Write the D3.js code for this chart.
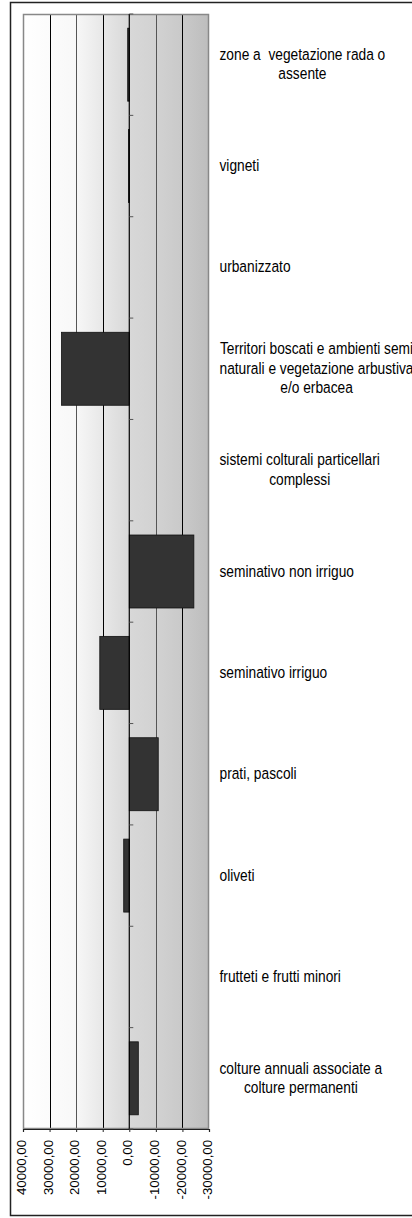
<!DOCTYPE html>
<html>
<head>
<meta charset="utf-8">
<script src="https://cdn.jsdelivr.net/npm/d3@7"></script>
<style>
  body { margin: 0; background: #fff; }
  svg { display: block; }
  text { font-family: "Liberation Sans", Arial, sans-serif; fill: #000; white-space: pre; }
</style>
</head>
<body>
<div id="chart"></div>
<script>
// categories, top to bottom (each label split in lines)
var categories = [
  "zone a  vegetazione rada o|assente",
  "vigneti",
  "urbanizzato",
  "Territori boscati e ambienti semi|naturali e vegetazione arbustiva|e/o erbacea",
  "sistemi colturali particellari|complessi",
  "seminativo non irriguo",
  "seminativo irriguo",
  "prati, pascoli",
  "oliveti",
  "frutteti e frutti minori",
  "colture annuali associate a|colture permanenti"
];
var values = [600, 300, 0, 25500, 0, -24300, 11100, -10900, 2100, 0, -3400];
var ticks = [40000, 30000, 20000, 10000, 0, -10000, -20000, -30000];

window.onload = function() {
  var width = 412, height = 1218;
  var plot = {left: 23, right: 209, top: 14, bottom: 1129};
  var stretch = 1.17;   // the original picture is a bit taller than wide
  var tickStretch = 1.1;

  var svg = d3.select("#chart").append("svg")
     .attr("width", width)
     .attr("height", height);

  // outer frame
  svg.append("rect")
     .attr("x", 10.5).attr("y", 2.5)
     .attr("width", 410).attr("height", 1213)
     .attr("fill", "none")
     .attr("stroke", "#222")
     .attr("stroke-width", 1.5);

  var x = d3.scaleLinear()
     .domain([40000, -30000])
     .range([plot.left, plot.right]);

  var y = d3.scaleBand()
     .domain(d3.range(categories.length))
     .range([plot.top, plot.bottom])
     .paddingInner(0.28)
     .paddingOuter(0.14);

  // background: grey bands getting darker to the right
  var defs = svg.append("defs");
  var grad = defs.append("linearGradient").attr("id", "bg")
     .attr("x1", "0%").attr("x2", "100%").attr("y1", "0%").attr("y2", "0%");
  grad.append("stop").attr("offset", "0%").attr("stop-color", "#ffffff");
  grad.append("stop").attr("offset", "28%").attr("stop-color", "#f8f8f8");
  grad.append("stop").attr("offset", "57%").attr("stop-color", "#d8d8d8");
  grad.append("stop").attr("offset", "71%").attr("stop-color", "#d2d2d2");
  grad.append("stop").attr("offset", "86%").attr("stop-color", "#c9c9c9");
  grad.append("stop").attr("offset", "100%").attr("stop-color", "#bdbdbd");

  svg.append("rect")
     .attr("x", plot.left).attr("y", plot.top)
     .attr("width", plot.right - plot.left)
     .attr("height", plot.bottom - plot.top)
     .attr("fill", "url(#bg)");

  // vertical gridlines
  svg.append("g")
     .selectAll("line")
     .data(ticks.filter(t => t != 40000 && t != -30000 && t != 0))
     .join("line")
     .attr("x1", d => Math.round(x(d)) + 0.5)
     .attr("x2", d => Math.round(x(d)) + 0.5)
     .attr("y1", plot.top)
     .attr("y2", plot.bottom)
     .attr("stroke", (d, i) => i % 2 == 0 ? "#000" : "#555")
     .attr("stroke-width", 1);

  // plot border (grey)
  svg.append("rect")
     .attr("x", plot.left + 0.5).attr("y", plot.top + 0.5)
     .attr("width", plot.right - plot.left - 1)
     .attr("height", plot.bottom - plot.top - 1)
     .attr("fill", "none")
     .attr("stroke", "#888")
     .attr("stroke-width", 1.5);

  // bars
  svg.append("g")
     .selectAll("rect")
     .data(values)
     .join("rect")
     .attr("x", d => x(Math.max(d, 0)))
     .attr("y", (d, i) => y(i))
     .attr("width", d => Math.abs(x(d) - x(0)))
     .attr("height", y.bandwidth())
     .attr("fill", "#333333")
     .attr("stroke", "#111")
     .attr("stroke-width", d => d == 0 ? 0 : 0.8);

  // value axis along the bottom
  var xAxis = d3.axisBottom(x)
     .tickValues(ticks)
     .tickSize(3)
     .tickFormat(d => d3.format(".2f")(d).replace(".", ",").replace("\u2212", "-"));

  var gx = svg.append("g")
     .attr("transform", "translate(0," + plot.bottom + ")")
     .call(xAxis);
  gx.select(".domain").attr("stroke", "#222").attr("stroke-width", 1.2);
  gx.selectAll(".tick line").attr("stroke", "#222");
  gx.selectAll(".tick text")
     .attr("transform", "rotate(-90) scale(" + tickStretch + ",1)")
     .attr("x", -11 / tickStretch)
     .attr("y", -1.5)
     .attr("dy", "0.35em")
     .attr("text-anchor", "end")
     .style("font-size", "12px")
     .style("font-family", "'Liberation Sans', Arial, sans-serif")
     .attr("fill", "#000");

  // category axis at zero
  var cat = svg.append("g");
  cat.append("line")
     .attr("x1", x(0)).attr("x2", x(0))
     .attr("y1", plot.top).attr("y2", plot.bottom)
     .attr("stroke", "#000")
     .attr("stroke-width", 1.2);
  cat.selectAll("line.tk")
     .data(d3.range(categories.length + 1))
     .join("line")
     .attr("class", "tk")
     .attr("x1", x(0)).attr("x2", x(0) + 4)
     .attr("y1", i => plot.top + i * y.step())
     .attr("y2", i => plot.top + i * y.step())
     .attr("stroke", "#555");

  // category labels on the right, lines centered inside their block
  var lh = 19.5;
  var labels = svg.append("g")
     .selectAll("g")
     .data(categories)
     .join("g")
     .attr("transform", (d, i) => "translate(219.5," + (y(i) + y.bandwidth() / 2 + 5) + ")");

  labels.each(function(d) {
    var g = d3.select(this);
    var lines = d.split("|");
    var t = g.selectAll("text").data(lines).join("text")
       .style("font-size", "13.75px")
       .text(l => l);
    var w = d3.max(t.nodes(), n => n.getComputedTextLength());
    t.attr("transform", function(l, k) {
      var dx = (w - this.getComputedTextLength()) / 2;
      var dy = (k - (lines.length - 1) / 2) * lh;
      return "translate(" + dx + "," + dy + ") scale(1," + stretch + ")";
    });
  });
};
</script>
</body>
</html>
